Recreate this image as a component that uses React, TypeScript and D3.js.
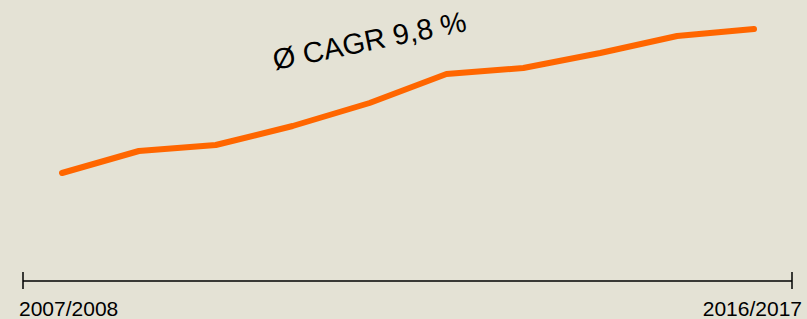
import React, { useEffect, useRef } from "react";
import * as d3 from "d3";

const years = [
  "2007/2008", "2008/2009", "2009/2010", "2010/2011", "2011/2012",
  "2012/2013", "2013/2014", "2014/2015", "2015/2016", "2016/2017",
];
// index values (relative units)
const values = [109, 131, 137, 156, 179, 208, 214, 229, 246, 253];
const axisLabels = ["2007/2008", "2016/2017"];
const cagrText = "Ø CAGR 9,8 %";

const W = 807;
const H = 319;

export default function App() {
  const svgRef = useRef<SVGSVGElement>(null);

  useEffect(() => {
    if (!svgRef.current) return;
    const svg = d3.select(svgRef.current);
    svg.selectAll("*").remove();

    svg.append("rect").attr("width", W).attr("height", H).attr("fill", "#e4e2d5");

    const x = d3.scalePoint().domain(years).range([62, 754]);
    const y = d3.scaleLinear().domain([0, 282]).range([282, 0]);

    // 軸
    const axisY = 281;
    svg.append("line")
      .attr("x1", 23).attr("x2", 792)
      .attr("y1", axisY).attr("y2", axisY)
      .attr("stroke", "#000").attr("stroke-width", 1.5);
    [23, 792].forEach((xx) => {
      svg.append("line")
        .attr("x1", xx).attr("x2", xx)
        .attr("y1", axisY - 9).attr("y2", axisY + 8)
        .attr("stroke", "#000").attr("stroke-width", 1.5);
    });

    svg.append("text")
      .attr("x", 19).attr("y", 316)
      .attr("text-anchor", "start")
      .style("font-family", "Liberation Sans, Arial, sans-serif")
      .style("font-size", "21px")
      .attr("fill", "#000")
      .text(axisLabels[0]);
    svg.append("text")
      .attr("x", 802).attr("y", 316)
      .attr("text-anchor", "end")
      .style("font-family", "Liberation Sans, Arial, sans-serif")
      .style("font-size", "21px")
      .attr("fill", "#000")
      .text(axisLabels[1]);

    // ライン
    const line = d3.line<number>()
      .x((_, i) => x(years[i]) || 0)
      .y((d) => y(d));
    svg.append("path")
      .datum(values)
      .attr("fill", "none")
      .attr("stroke", "#ff6600")
      .attr("stroke-width", 6)
      .attr("stroke-linecap", "round")
      .attr("stroke-linejoin", "round")
      .attr("d", line);

    svg.append("text")
      .attr("transform", "translate(275,70) rotate(-11.5)")
      .style("font-family", "Liberation Sans, Arial, sans-serif")
      .style("font-size", "29px")
      .attr("fill", "#000")
      .text(cagrText);
  }, []);

  return (
    <svg
      ref={svgRef}
      width={W}
      height={H}
      style={{ position: "absolute", left: 0, top: 0, display: "block" }}
    />
  );
}
